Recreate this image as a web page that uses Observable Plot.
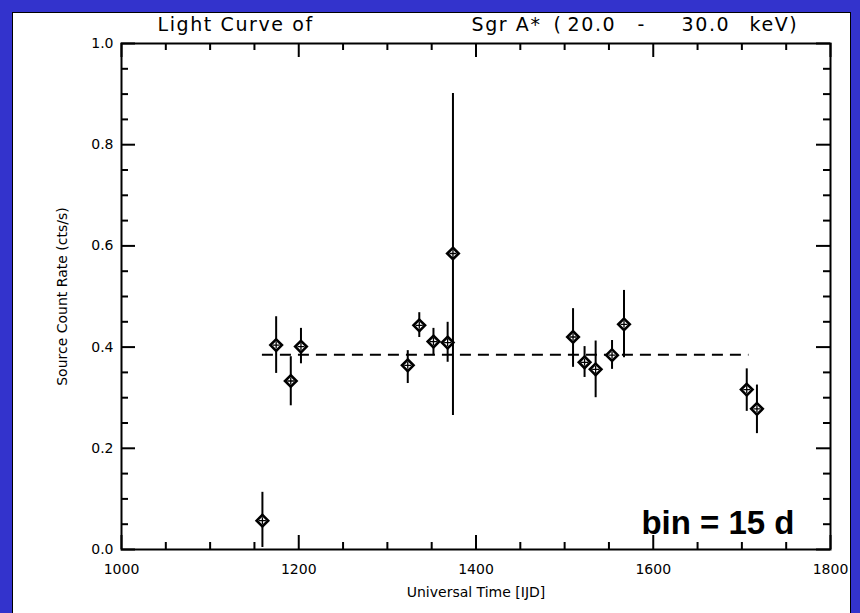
<!DOCTYPE html>
<html><head><meta charset="utf-8">
<script src="https://cdn.jsdelivr.net/npm/d3@7"></script>
<script src="https://cdn.jsdelivr.net/npm/@observablehq/plot@0.6"></script>
<style>
html,body{margin:0;padding:0;background:#3333cc;width:860px;height:613px;overflow:hidden}
#panel{position:absolute;left:12px;top:12px;width:837px;height:601px;background:#fff;border:1px solid #000;border-bottom:none;overflow:hidden}
svg{display:block}
#panel svg g[font-size="19"] text{letter-spacing:1.6px}
</style></head><body><div id="panel"></div><script>
// data (IJD, count rate, error bounds)
const times  = [1159, 1174.5, 1191, 1202.5, 1323, 1336, 1352, 1368, 1374, 1509.5, 1522.5, 1535, 1553.5, 1567, 1705.5, 1717];
const rates  = [0.057, 0.404, 0.333, 0.401, 0.364, 0.443, 0.411, 0.409, 0.585, 0.420, 0.370, 0.356, 0.384, 0.445, 0.316, 0.278];
const errLow = [0.004, 0.348, 0.284, 0.367, 0.328, 0.419, 0.383, 0.370, 0.265, 0.360, 0.340, 0.300, 0.356, 0.379, 0.273, 0.229];
const errHigh= [0.113, 0.460, 0.381, 0.437, 0.393, 0.468, 0.437, 0.449, 0.901, 0.476, 0.401, 0.412, 0.413, 0.512, 0.357, 0.325];
const meanRate = [0.385];
const meanSpan = [1159, 1708];
const xMajor = [1000, 1200, 1400, 1600, 1800];
const xMinor = [1050, 1100, 1150, 1250, 1300, 1350, 1450, 1500, 1550, 1650, 1700, 1750];
const yMajor = [0, 0.2, 0.4, 0.6, 0.8, 1.0];
const yMinor = [0.05, 0.1, 0.15, 0.25, 0.3, 0.35, 0.45, 0.5, 0.55, 0.65, 0.7, 0.75, 0.85, 0.9, 0.95];
const titleLeft = "Light Curve of";
const titleRightParts = ["Sgr A*", "(", "20.0", "-", "30.0", "keV)"];
const titleRightOffsets = [350, 432, 446, 516, 560, 628];
const xLabel = "Universal Time [IJD]";
const yLabel = "Source Count Rate (cts/s)";
const binNote = "bin = 15 d";

const data = times.map((t, i) => ({t, r: rates[i], lo: errLow[i], hi: errHigh[i]}));
const W = 837, H = 600, mL = 108, mR = 20, mT = 30, mB = 64;
const fw = W - mL - mR, fh = H - mT - mB;
const font = "DejaVu Sans, sans-serif";

const titleMarks = titleRightParts.map((p, i) =>
  Plot.text([p], {text: d => d, frameAnchor: "top-left", dx: titleRightOffsets[i], dy: -19, lineAnchor: "middle", textAnchor: "start", fontSize: 19, fontFamily: font, fill: "black"}));

const chart = Plot.plot({
  width: W, height: H,
  marginLeft: mL, marginRight: mR, marginTop: mT, marginBottom: mB,
  x: {domain: [1000, 1800]},
  y: {domain: [0, 1]},
  style: {fontFamily: font, background: "white", color: "black"},
  marks: [
    // ticks (inward, all four sides)
    Plot.tickX(xMajor, {x: d => d, insetTop: fh - 14, strokeWidth: 2}),
    Plot.tickX(xMajor, {x: d => d, insetBottom: fh - 14, strokeWidth: 2}),
    Plot.tickX(xMinor, {x: d => d, insetTop: fh - 7, strokeWidth: 2}),
    Plot.tickX(xMinor, {x: d => d, insetBottom: fh - 7, strokeWidth: 2}),
    Plot.tickY(yMajor, {y: d => d, insetRight: fw - 14, strokeWidth: 2}),
    Plot.tickY(yMajor, {y: d => d, insetLeft: fw - 14, strokeWidth: 2}),
    Plot.tickY(yMinor, {y: d => d, insetRight: fw - 7, strokeWidth: 2}),
    Plot.tickY(yMinor, {y: d => d, insetLeft: fw - 7, strokeWidth: 2}),
    Plot.axisX({ticks: xMajor, tickSize: 0, tickPadding: 15, fontSize: 14, tickFormat: d3.format("d"), label: null}),
    Plot.axisY({ticks: yMajor, tickSize: 0, tickPadding: 8, fontSize: 14, tickFormat: d3.format(".1f"), label: null}),
    Plot.frame({stroke: "black", strokeWidth: 2}),
    // mean line
    Plot.ruleY(meanRate, {y: d => d, x1: meanSpan[0], x2: meanSpan[1], strokeWidth: 2, strokeDasharray: "11,7"}),
    // error bars
    Plot.ruleX(data, {x: "t", y1: "lo", y2: "hi", strokeWidth: 2}),
    Plot.dot(data, {x: "t", y: "r", symbol: "diamond2", r: 5.2, stroke: "black", strokeWidth: 2.6, fill: "white"}),
    Plot.dot(data, {x: "t", y: "r", symbol: "plus", r: 2.4, stroke: "black", strokeWidth: 1.3}),
    // texts
    Plot.text([titleLeft], {text: d => d, frameAnchor: "top-left", dx: 36, dy: -19, lineAnchor: "middle", textAnchor: "start", fontSize: 19, fontFamily: font, fill: "black"}),
    ...titleMarks,
    Plot.text([xLabel], {text: d => d, frameAnchor: "bottom", dy: 43, lineAnchor: "middle", textAnchor: "middle", fontSize: 14, fontFamily: font, fill: "black"}),
    Plot.text([yLabel], {text: d => d, frameAnchor: "left", dx: -59, rotate: -90, lineAnchor: "middle", textAnchor: "middle", fontSize: 14, fontFamily: font, fill: "black"}),
    Plot.text([binNote], {text: d => d, frameAnchor: "bottom-right", dx: -36, dy: -16, lineAnchor: "bottom", textAnchor: "end", fontSize: 33, fontWeight: "bold", fontFamily: "Liberation Sans, Arial, sans-serif", fill: "black"})
  ]
});
document.getElementById("panel").appendChild(chart);
</script></body></html>
